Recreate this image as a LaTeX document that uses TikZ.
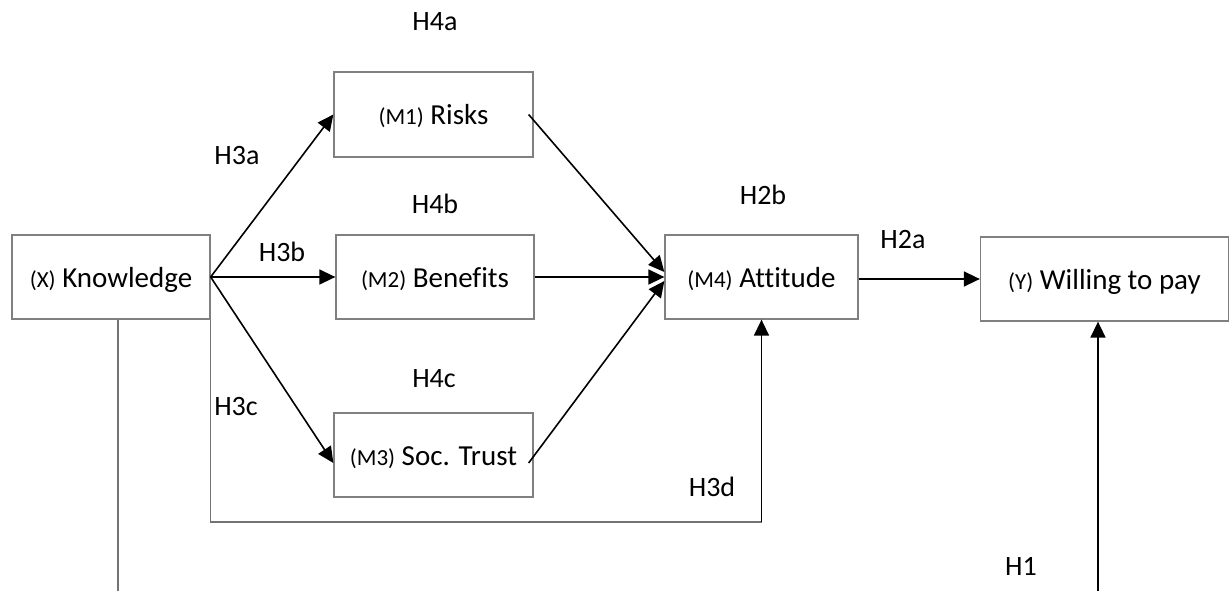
\documentclass[tikz,border=0pt]{standalone}
\usepackage{fontspec}
\setmainfont{Carlito}[Ligatures=NoCommon]
\usetikzlibrary{arrows.meta}

\newcommand{\pfx}[1]{{\fontsize{23}{23}\selectfont(#1)}}

\begin{document}
\begin{tikzpicture}[x=1pt, y=-1pt,
    box/.style={draw=black!50, line width=1.3pt, minimum height=84pt, inner sep=0pt,
        text height=21pt, text depth=0pt, font=\fontsize{29}{30}\selectfont},
    hyp/.style={font=\fontsize{28}{30}\selectfont, inner sep=0pt},
    effect/.style={-{Triangle[length=16pt,width=15pt]}, line width=1.6pt},
    link/.style={draw=black!55, line width=1.3pt}]
    \useasboundingbox (0,0) rectangle (1232,591);

    % constructs
    \node[box, minimum width=198pt] (know) at (111,277) {\pfx{X} Knowledge};
    \node[box, minimum width=199pt, minimum height=85pt] (risk) at (433.5,114.5) {\pfx{M1} Risks};
    \node[box, minimum width=198pt] (bene) at (435,277) {\pfx{M2} Benefits};
    \node[box, minimum width=199pt] (trust) at (433.5,455) {\pfx{M3} Soc. Trust};
    \node[box, minimum width=193pt] (att) at (761.5,277) {\pfx{M4} Attitude};
    \node[box, minimum width=248pt] (wtp) at (1104.5,279) {\pfx{Y} Willing to pay};

    % helpers
    \coordinate (base) at (0,522);
    \coordinate (kfoot) at (118,591);
    \coordinate (wfoot) at (1098,591);

    % knowledge -> mediators
    \draw[effect] (know.east) -- (risk.west);
    \draw[effect] (know.east) -- (bene.west);
    \draw[effect] (know.east) -- ([yshift=-8pt]trust.west);
    % mediators -> attitude
    \draw[effect] ([xshift=-5pt]risk.east) -- ([yshift=5pt]att.west);
    \draw[effect] (bene.east) -- (att.west);
    \draw[effect] ([xshift=-5pt,yshift=-8pt]trust.east) -- ([yshift=-4pt]att.west);
    % attitude -> wtp
    \draw[effect] (att.east |- wtp.west) -- (wtp.west);
    % direct paths
    \draw[link] (know.south east) |- (att.south |- base);
    \draw[effect] (att.south |- base) -- (att.south);
    \draw[link] (kfoot |- know.south) -- (kfoot);
    \draw[effect] (wfoot) -- (wfoot |- wtp.south);

    % hypotheses
    \node[hyp] (h4a) at (435,22) {H4a};
    \node[hyp] (h3a) at (237,156) {H3a};
    \node[hyp] (h4b) at (435,204) {H4b};
    \node[hyp] (h2b) at (763,195) {H2b};
    \node[hyp] (h2a) at (903,240) {H2a};
    \node[hyp] (h3b) at (282,252) {H3b};
    \node[hyp] (h4c) at (434,379) {H4c};
    \node[hyp] (h3c) at (236,407) {H3c};
    \node[hyp] (h3d) at (712,487) {H3d};
    \node[hyp] (h1) at (1021,566) {H1};
\end{tikzpicture}
\end{document}
